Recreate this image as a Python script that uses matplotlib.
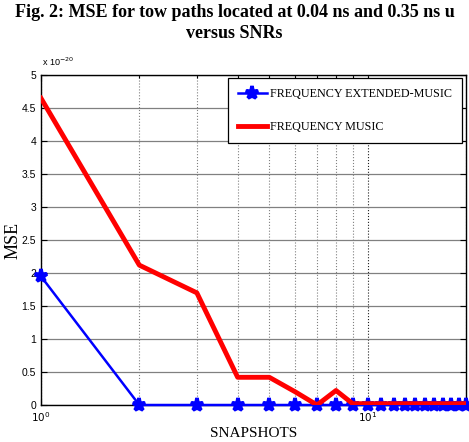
import matplotlib
matplotlib.use("Agg")
import matplotlib.pyplot as plt
from matplotlib.ticker import FixedLocator, NullFormatter, FixedFormatter

snapshots = list(range(1, 21))
ext_music = [1.95] + [0.0] * 19
music = [4.65, 2.12, 1.70, 0.42, 0.42, 0.20, 0.0, 0.22, 0.02,
         0.02, 0.02, 0.02, 0.02, 0.02, 0.02, 0.02, 0.02, 0.02, 0.02, 0.02]
yticks = [0, 0.5, 1, 1.5, 2, 2.5, 3, 3.5, 4, 4.5, 5]
ytick_labels = ["0", "0.5", "1", "1.5", "2", "2.5", "3", "3.5", "4", "4.5", "5"]

fig = plt.figure(figsize=(4.69, 4.42), dpi=100)
ax = fig.add_axes([0.0874, 0.0837, 0.9062, 0.7463])

ax.plot(snapshots, ext_music, color="#0000ff", lw=1.8, marker="*", ms=9.5,
        mew=2.6, label="FREQUENCY EXTENDED-MUSIC", zorder=3, clip_on=False)
ax.plot(snapshots, music, color="#ff0000", lw=3.5,
        label="FREQUENCY MUSIC", zorder=4)

ax.set_xscale("log")
ax.set_xlim(1, 20)
ax.set_ylim(0, 5)
ax.xaxis.set_major_locator(FixedLocator([1, 10]))
ax.xaxis.set_major_formatter(FixedFormatter([r"$10^0$", r"$10^1$"]))
ax.xaxis.set_minor_locator(FixedLocator([2, 3, 4, 5, 6, 7, 8, 9, 20]))
ax.xaxis.set_minor_formatter(NullFormatter())
ax.set_yticks(yticks)
ax.set_yticklabels(ytick_labels)

ax.grid(True, which="major", axis="y", color="#808080", lw=0.9, ls="-")
ax.grid(True, which="major", axis="x", color="#202020", lw=0.8, ls=":")
ax.grid(True, which="minor", axis="x", color="#808080", lw=0.8, ls=":")

ax.tick_params(which="both", direction="in", top=True, right=True,
               labelsize=7.5, width=0.8, colors="black")
ax.tick_params(which="major", length=4)
ax.tick_params(which="minor", length=2)
for lab in ax.get_xticklabels() + ax.get_yticklabels():
    lab.set_fontfamily("Liberation Sans")
for s in ax.spines.values():
    s.set_color("black")
    s.set_linewidth(1.0)

ax.set_xlabel("SNAPSHOTS", family="Liberation Serif", fontsize=11)
ax.xaxis.set_label_coords(0.5, -0.068)
ax.set_ylabel("MSE", family="Liberation Serif", fontsize=13)
ax.yaxis.set_label_coords(-0.045, 0.5)

fig.text(0.089, 0.85, r"x 10$^{-20}$", family="Liberation Sans", fontsize=6.5)

fig.suptitle("Fig. 2: MSE for tow paths located at 0.04 ns and 0.35 ns u\nversus SNRs",
             family="Liberation Serif", fontweight="bold", fontsize=13,
             y=0.99, linespacing=1.3)

leg = ax.legend(loc="upper right", prop={"family": "Liberation Serif", "size": 8.7},
                fancybox=False, framealpha=1, edgecolor="black",
                borderpad=0.8, labelspacing=1.75, handlelength=2.4,
                handletextpad=0.3, borderaxespad=0,
                bbox_to_anchor=(0.9906, 0.9909))
leg.get_frame().set_linewidth(0.9)

fig.savefig("out.png", dpi=100)
